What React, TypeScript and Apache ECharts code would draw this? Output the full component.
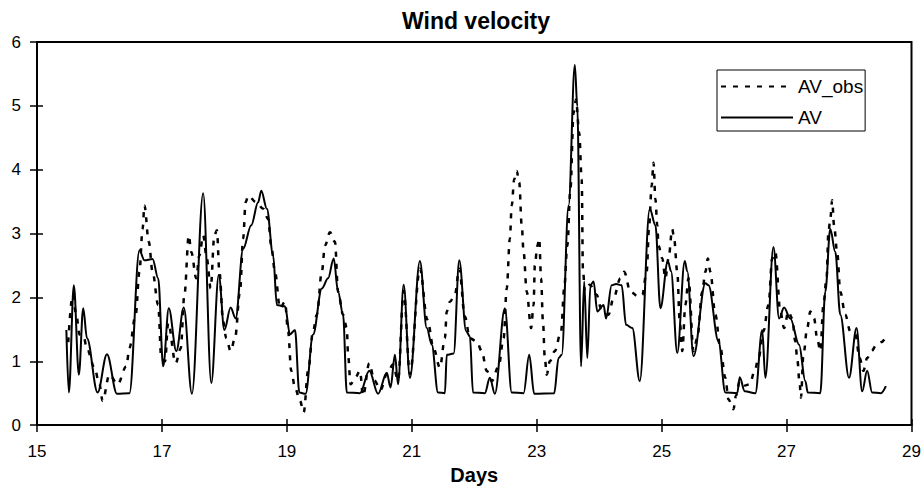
import React, { useEffect, useRef } from "react";
import * as echarts from "echarts";

// Simulated wind velocity (AV)
const avDays = [
  15.47, 15.51, 15.59, 15.67, 15.74, 15.8, 15.97, 16.12, 16.28, 16.48, 16.64, 16.72, 16.85, 16.94,
  17.02, 17.11, 17.23, 17.35, 17.48, 17.66, 17.79, 17.91, 18.0, 18.1, 18.18, 18.3, 18.43, 18.54,
  18.59, 18.68, 18.78, 18.84, 18.97, 19.05, 19.13, 19.2, 19.3, 19.42, 19.56, 19.66, 19.75, 19.82,
  19.9, 19.96, 20.17, 20.32, 20.46, 20.6, 20.66, 20.73, 20.78, 20.87, 20.97, 21.13, 21.24, 21.32,
  21.42, 21.53, 21.56, 21.67, 21.76, 21.87, 21.93, 21.98, 22.17, 22.25, 22.33, 22.49, 22.6, 22.79,
  22.88, 22.96, 23.28, 23.35, 23.4, 23.51, 23.61, 23.65, 23.71, 23.76, 23.81, 23.86, 23.91, 23.97,
  24.07, 24.11, 24.2, 24.27, 24.36, 24.43, 24.53, 24.65, 24.81, 24.9, 24.98, 25.1, 25.15, 25.25,
  25.37, 25.41, 25.51, 25.7, 25.75, 25.91, 26.02, 26.21, 26.25, 26.33, 26.5, 26.61, 26.66, 26.79,
  26.88, 26.96, 27.06, 27.2, 27.3, 27.34, 27.54, 27.62, 27.7, 27.78, 27.86, 28.0, 28.12, 28.21,
  28.29, 28.37, 28.51, 28.59,
];
const avValues = [
  1.49, 0.51, 2.19, 0.79, 1.83, 1.36, 0.51, 1.11, 0.49, 0.5, 2.74, 2.58, 2.6, 2.3,
  0.92, 1.83, 1.16, 1.84, 0.49, 3.63, 0.66, 2.35, 1.49, 1.84, 1.67, 2.76, 3.13, 3.49,
  3.67, 3.39, 2.66, 1.88, 1.86, 1.42, 1.49, 0.51, 0.49, 1.42, 2.14, 2.3, 2.61, 2.09,
  1.73, 0.51, 0.5, 0.85, 0.49, 0.82, 0.59, 1.1, 0.64, 2.2, 0.74, 2.57, 1.52, 1.26,
  0.51, 0.5, 1.1, 1.12, 2.58, 1.47, 1.39, 0.51, 0.5, 0.74, 0.49, 1.83, 0.51, 0.5,
  1.1, 0.49, 0.5, 1.05, 1.1, 3.44, 5.64, 4.99, 0.92, 2.25, 1.05, 2.19, 2.25, 1.78,
  1.88, 1.67, 2.19, 2.21, 2.19, 1.57, 1.52, 0.69, 3.39, 3.13, 1.83, 2.57, 2.41, 1.13,
  2.57, 2.41, 1.08, 2.22, 2.19, 1.31, 0.51, 0.5, 0.75, 0.53, 0.5, 1.49, 0.74, 2.79,
  1.67, 1.84, 1.67, 1.26, 0.69, 0.51, 0.5, 2.09, 3.07, 2.71, 1.73, 0.74, 1.52, 0.53,
  0.85, 0.51, 0.5, 0.61,
];

// Observed wind velocity (AV_obs)
const obsDays = [
  15.5, 15.57, 15.63, 15.68, 15.74, 15.81, 15.92, 16.0, 16.05, 16.16, 16.29, 16.43, 16.48, 16.58,
  16.64, 16.69, 16.72, 16.79, 16.85, 16.94, 16.99, 17.05, 17.1, 17.22, 17.3, 17.36, 17.43, 17.47,
  17.55, 17.6, 17.66, 17.72, 17.78, 17.84, 17.88, 17.92, 17.98, 18.03, 18.1, 18.17, 18.25, 18.3,
  18.34, 18.38, 18.51, 18.62, 18.7, 18.75, 18.81, 18.89, 18.97, 19.02, 19.07, 19.13, 19.21, 19.27,
  19.34, 19.42, 19.48, 19.56, 19.61, 19.69, 19.77, 19.82, 19.9, 19.96, 19.98, 20.02, 20.1, 20.17,
  20.22, 20.32, 20.4, 20.5, 20.6, 20.7, 20.78, 20.87, 20.97, 21.13, 21.25, 21.35, 21.45, 21.53,
  21.56, 21.61, 21.69, 21.76, 21.85, 21.93, 22.04, 22.12, 22.2, 22.28, 22.39, 22.47, 22.52, 22.57,
  22.6, 22.64, 22.68, 22.72, 22.76, 22.79, 22.84, 22.91, 22.95, 22.97, 23.01, 23.04, 23.07, 23.1,
  23.13, 23.16, 23.21, 23.29, 23.39, 23.44, 23.49, 23.54, 23.59, 23.63, 23.68, 23.72, 23.74, 23.77,
  23.85, 23.96, 24.03, 24.15, 24.23, 24.34, 24.4, 24.5, 24.63, 24.69, 24.76, 24.8, 24.84, 24.87,
  24.9, 24.93, 24.95, 25.01, 25.06, 25.11, 25.17, 25.2, 25.25, 25.29, 25.33, 25.38, 25.43, 25.51,
  25.57, 25.65, 25.7, 25.74, 25.78, 25.86, 25.94, 26.02, 26.07, 26.15, 26.19, 26.25, 26.33, 26.41,
  26.49, 26.55, 26.63, 26.71, 26.77, 26.82, 26.9, 26.96, 27.03, 27.09, 27.14, 27.17, 27.21, 27.23,
  27.27, 27.33, 27.38, 27.44, 27.49, 27.54, 27.59, 27.64, 27.67, 27.7, 27.73, 27.76, 27.81, 27.86,
  27.94, 28.02, 28.1, 28.17, 28.23, 28.29, 28.36, 28.44, 28.52, 28.57,
];
const obsValues = [
  1.3, 2.04, 1.73, 1.42, 1.4, 1.16, 0.9, 0.64, 0.38, 0.79, 0.64, 0.92, 1.21, 1.73,
  2.4, 3.07, 3.44, 2.87, 2.4, 1.88, 1.05, 1.0, 1.6, 0.97, 1.2, 2.04, 2.97, 2.71,
  2.3, 2.66, 2.97, 2.6, 2.14, 2.97, 3.05, 2.4, 1.62, 1.36, 1.16, 1.36, 2.09, 2.92,
  3.49, 3.59, 3.49, 3.39, 3.23, 2.81, 2.4, 1.83, 1.93, 1.47, 0.85, 0.59, 0.38, 0.2,
  0.85, 1.47, 1.73, 2.4, 2.81, 3.02, 2.87, 2.09, 1.73, 1.52, 1.1, 0.64, 0.75, 0.85,
  0.46, 0.97, 0.7, 0.55, 0.8, 0.95, 0.7, 2.1, 0.8, 2.45, 1.65, 1.2, 0.9, 1.36,
  1.78, 1.93, 2.04, 2.45, 1.7, 1.36, 1.31, 1.16, 0.85, 0.69, 0.92, 1.36, 2.14, 2.92,
  3.44, 3.85, 3.98, 3.8, 3.13, 2.71, 2.09, 1.52, 1.88, 2.5, 2.81, 2.92, 2.3, 1.62,
  1.05, 0.79, 1.0, 1.16, 1.47, 2.14, 2.81, 3.7, 4.89, 5.1, 4.58, 3.85, 2.45, 2.09,
  2.2, 2.04, 1.83, 1.73, 1.99, 2.3, 2.4, 2.09, 2.01, 2.04, 2.4, 3.13, 3.75, 4.11,
  3.54, 3.13, 2.81, 2.61, 2.3, 2.61, 3.07, 2.92, 2.4, 1.62, 1.16, 1.88, 2.3, 1.16,
  1.36, 2.09, 2.4, 2.61, 2.4, 1.73, 1.21, 0.74, 0.4, 0.25, 0.46, 0.69, 0.62, 0.64,
  0.85, 1.05, 1.47, 1.88, 2.61, 2.71, 1.78, 1.52, 1.78, 1.67, 1.31, 1.05, 0.64, 0.43,
  1.1, 1.52, 1.78, 1.67, 1.36, 1.16, 1.88, 2.3, 3.02, 3.23, 3.52, 3.13, 2.71, 2.09,
  1.73, 1.47, 1.42, 1.05, 0.85, 1.05, 1.16, 1.26, 1.3, 1.35,
];

const FONT = "'Liberation Sans', Arial, sans-serif";

export default function App() {
  const ref = useRef<HTMLDivElement>(null);

  useEffect(() => {
    if (!ref.current) return;
    const chart = echarts.init(ref.current, undefined, { renderer: "svg" });
    const obsData = obsDays.map((d, i) => [d, obsValues[i]]);
    const avData = avDays.map((d, i) => [d, avValues[i]]);

    const xBase = { type: "value", min: 15, max: 29, interval: 2 };
    const yBase = { type: "value", min: 0, max: 6, interval: 1 };

    chart.setOption({
      animation: false,
      backgroundColor: "#fff",
      textStyle: { fontFamily: FONT, color: "#000" },
      title: {
        text: "Wind velocity",
        left: 471,
        textAlign: "center",
        top: 4,
        textStyle: { fontFamily: FONT, fontSize: 23, fontWeight: "bold", color: "#000" },
      },
      grid: {
        left: 37,
        right: 12.5,
        top: 42,
        bottom: 62,
        show: true,
        borderColor: "#000",
        borderWidth: 2,
        backgroundColor: "transparent",
      },
      legend: {
        orient: "vertical",
        left: 717,
        top: 70,
        padding: [7, 2, 4, 3],
        itemWidth: 72,
        itemHeight: 14,
        itemGap: 12,
        borderColor: "#000",
        borderWidth: 1,
        backgroundColor: "#fff",
        data: ["AV_obs", "AV"],
        itemStyle: { color: "rgba(0,0,0,0)", borderWidth: 0, opacity: 0 },
        textStyle: { fontFamily: FONT, fontSize: 19, color: "#000" },
      },
      xAxis: [
        {
          ...xBase,
          name: "Days",
          nameLocation: "middle",
          nameGap: 38,
          nameTextStyle: { fontFamily: FONT, fontSize: 20, fontWeight: "bold", color: "#000" },
          axisLine: { show: true, onZero: false, lineStyle: { color: "#000", width: 2 } },
          axisTick: { show: true, inside: false, length: 7, lineStyle: { color: "#000", width: 1.5 } },
          axisLabel: { fontFamily: FONT, fontSize: 17, color: "#000", margin: 18 },
          splitLine: { show: false },
        },
        {
          ...xBase,
          position: "bottom",
          axisLine: { show: false },
          axisTick: { show: true, inside: true, length: 6, lineStyle: { color: "#000", width: 1.5 } },
          axisLabel: { show: false },
          splitLine: { show: false },
        },
      ],
      yAxis: [
        {
          ...yBase,
          axisLine: { show: true, onZero: false, lineStyle: { color: "#000", width: 2 } },
          axisTick: { show: true, inside: false, length: 7, lineStyle: { color: "#000", width: 1.5 } },
          axisLabel: { fontFamily: FONT, fontSize: 17, color: "#000", margin: 16 },
          splitLine: { show: false },
        },
        {
          ...yBase,
          position: "left",
          axisLine: { show: false },
          axisTick: { show: true, inside: true, length: 6, lineStyle: { color: "#000", width: 1.5 } },
          axisLabel: { show: false },
          splitLine: { show: false },
        },
      ],
      series: [
        {
          name: "AV_obs",
          type: "line",
          data: obsData,
          symbol: "none",
          smooth: 0.35,
          smoothMonotone: "x",
          lineStyle: { color: "#000", width: 2.5, type: [5, 7] },
          itemStyle: { color: "#000" },
          z: 3,
        },
        {
          name: "AV",
          type: "line",
          data: avData,
          symbol: "none",
          smooth: 0.35,
          smoothMonotone: "x",
          lineStyle: { color: "#000", width: 2, type: "solid" },
          itemStyle: { color: "#000" },
          z: 4,
        },
      ],
    });
    return () => chart.dispose();
  }, []);

  return (
    <div
      ref={ref}
      style={{ position: "absolute", left: 0, top: 0, width: 924, height: 490 }}
    />
  );
}
